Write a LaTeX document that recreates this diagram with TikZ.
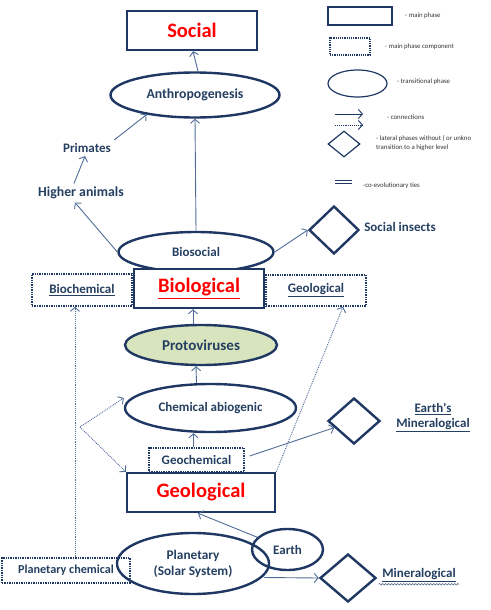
\documentclass[tikz,border=0pt]{standalone}
\usepackage{fontspec}
\setmainfont{Carlito}
\usetikzlibrary{shapes.geometric,arrows.meta,decorations.pathmorphing}
\definecolor{navy}{HTML}{1F3763}
\definecolor{txt}{HTML}{243F60}
\definecolor{arrowc}{HTML}{4F6B97}
\definecolor{green}{HTML}{D7E4BD}
\definecolor{legtxt}{HTML}{333333}
\begin{document}
\begin{tikzpicture}[x=1pt,y=-1pt,
 mainbox/.style={draw=navy,line width=2.4pt,fill=white,inner sep=0pt},
 comp/.style={draw=navy,line width=1.4pt,densely dotted,inner sep=0pt},
 trans/.style={ellipse,draw=navy,line width=2.4pt,inner sep=0pt},
 lateral/.style={diamond,draw=navy,line width=2.4pt,inner sep=0pt},
 conn/.style={draw=arrowc,line width=0.9pt,-{Straight Barb[length=4pt,width=9pt]}},
 dconn/.style={conn,densely dotted},
 lbl/.style={text=txt,font=\bfseries\fontsize{13}{15}\selectfont},
 lbll/.style={text=txt,font=\bfseries\fontsize{13.8}{16}\selectfont},
 big/.style={text=red,font=\bfseries\fontsize{20.5}{24}\selectfont},
 leg/.style={text=legtxt,font=\fontsize{6.8}{8.5}\selectfont,anchor=west,inner sep=0pt,align=left},
 legshape/.style={draw=navy,line width=1.2pt,inner sep=0pt}]
\useasboundingbox (0,0) rectangle (490,610);

% legend
\node[legshape,minimum width=64pt,minimum height=18pt] (lg1) at (360,16) {};
\node[leg] (lg1t) at (405,16) {- main phase};
\node[legshape,densely dotted,minimum width=40pt,minimum height=17pt] (lg2) at (350,46.5) {};
\node[leg] (lg2t) at (385,47) {- main phase component};
\node[legshape,ellipse,minimum width=59pt,minimum height=27pt] (lg3) at (357.5,83.5) {};
\node[leg] (lg3t) at (397,82) {- transitional phase};
\coordinate (la1) at (335,114); \coordinate (lb1) at (363,114);
\coordinate (la2) at (335,125); \coordinate (lb2) at (363,125);
\draw[conn,draw=navy] (la1) -- (lb1);
\draw[dconn,draw=navy] (la2) -- (lb2);
\node[leg] (lg4t) at (387,117) {- connections};
\node[legshape,diamond,minimum width=32pt,minimum height=26pt] (lg5) at (344,144) {};
\node[leg] (lg5t) at (376,143) {- lateral phases without ( or unkno\\transition to a higher level};
\coordinate (lc1) at (335,180); \coordinate (ld1) at (352,180);
\coordinate (lc2) at (335,183.5); \coordinate (ld2) at (352,183.5);
\draw[navy,line width=0.9pt] (lc1) -- (ld1);
\draw[navy,line width=0.9pt] (lc2) -- (ld2);
\node[leg] (lg6t) at (363,186) {-co-evolutionary ties};

% main diagram
\node[mainbox,minimum width=130pt,minimum height=39pt,big] (social) at (192,30.5) {Social};
\node[trans,minimum width=169pt,minimum height=45pt,lbll] (anth) at (195,95) {Anthropogenesis};
\node[lbl] (prim) at (87,148) {Primates};
\node[lbll] (hig) at (81,193) {Higher animals};
\node[trans,minimum width=155pt,minimum height=40pt,lbl] (bios) at (196,252) {Biosocial};
\node[lateral,minimum width=50pt,minimum height=48pt] (ins) at (334,230) {};
\node[lbl] (insl) at (400,227) {Social insects};
\node[comp,minimum width=100pt,minimum height=32pt,lbl] (bch) at (82,290) {\underline{Biochemical}};
\node[mainbox,minimum width=130pt,minimum height=39pt,big] (bio) at (199,288.5) {\underline{Biological}};
\node[comp,minimum width=100pt,minimum height=31pt,lbl] (geor) at (316,290.5) {\underline{Geological}};
\node[trans,fill=green,minimum width=152pt,minimum height=40pt,lbl,font=\bfseries\fontsize{15}{17}\selectfont] (proto) at (201,345) {Protoviruses};
\node[trans,minimum width=171pt,minimum height=48pt,lbl] (chem) at (210.5,408) {Chemical abiogenic};
\node[lateral,minimum width=52pt,minimum height=46pt] (emin) at (354,421) {};
\node[lbl,align=center] (eminl) at (433,418) {\underline{Earth\textquotesingle s}\\\underline{Mineralogical}};
\node[comp,minimum width=95pt,minimum height=24pt,lbl] (geochem) at (196.5,460) {Geochemical};
\node[mainbox,minimum width=148pt,minimum height=39pt,big] (geo) at (201,492.5) {Geological};
\node[comp,minimum width=128pt,minimum height=25pt,lbl,font=\bfseries\fontsize{12.2}{14}\selectfont] (pc) at (66,570.5) {Planetary chemical};
\node[trans,minimum width=152pt,minimum height=61pt,lbl,align=center,font=\bfseries\fontsize{13.3}{16}\selectfont] (plan) at (193,563.5) {Planetary\\(Solar System)};
\node[trans,minimum width=71pt,minimum height=41pt,lbl] (earth) at (287.5,549.5) {Earth};
\node[lateral,minimum width=56pt,minimum height=48pt] (min) at (348,578) {};
\node[lbl] (minl) at (419,575) {\underline{Mineralogical}};
\draw[txt!80,line width=0.6pt,decorate,decoration={snake,amplitude=0.7pt,segment length=3pt}]
  ([yshift=1pt]minl.south west) -- ([yshift=1pt]minl.south east);

% connectors
\draw[conn] ([xshift=3pt]anth.north) -- ([xshift=1pt]social.south);
\draw[conn] (prim.north east) -- (anth.202);
\draw[conn] ([xshift=-7pt]hig.north) -- ([xshift=-2pt]prim.south);
\draw[conn] (bios.west) -- ([xshift=-6pt]hig.south);
\draw[conn] (bios.north) -- (anth.south);
\draw[conn] (bios.east) -- (ins.west);
\draw[conn] ([xshift=-8pt]proto.north) -- ([xshift=-6pt]bio.south);
\draw[conn] ([xshift=-14pt]chem.north) -- ([xshift=-5pt]proto.south);
\draw[conn] ([xshift=-3pt]geochem.north) -- ([xshift=-17pt]chem.south);
\draw[conn] ([xshift=5pt,yshift=4pt]geochem.east) -- (emin);
\draw[dconn] (geo.north east) -- ([xshift=27pt]geor.south);
\coordinate (fork) at (80,427);
\draw[dconn] (fork) -- ([yshift=10pt]chem.west);
\draw[dconn] (fork) -- (geo.north west);
\draw[dconn] ([xshift=9pt]pc.north) -- ([xshift=-7pt]bch.south);
\draw[conn] (earth) -- ([xshift=-3pt]geo.south);
\draw[conn] ([xshift=-6pt,yshift=-14pt]plan.east) -- (min.west);
\end{tikzpicture}
\end{document}
